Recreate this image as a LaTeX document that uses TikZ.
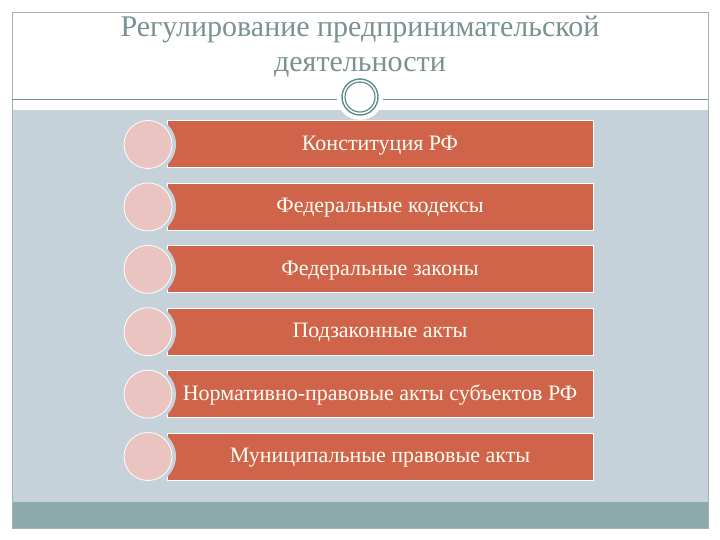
\documentclass[tikz,border=0pt]{standalone}
\usepackage{fontspec}
\setmainfont{Liberation Serif}
\usetikzlibrary{positioning}
\definecolor{panel}{RGB}{198,210,217}
\definecolor{band}{RGB}{140,170,170}
\definecolor{brick}{RGB}{208,100,74}
\definecolor{blush}{RGB}{233,196,193}
\definecolor{slate}{RGB}{122,146,146}
\definecolor{ring}{RGB}{94,140,140}

\begin{document}
\begin{tikzpicture}[x=1pt, y=-1pt,
  level/.style = {draw=white, line width=1pt, fill=brick, minimum width=426pt, minimum height=47pt,
                  inner sep=0pt, text height=15pt, text depth=3pt,
                  font=\fontsize{22}{24}\selectfont, text=white!95!yellow},
  notch/.style = {circle, fill=panel, minimum size=56pt, inner sep=0pt},
  badge/.style = {circle, fill=blush, draw=white, line width=0.8pt, minimum size=48pt, inner sep=0pt},
  heading/.style = {font=\fontsize{30}{35}\selectfont, text=slate, align=center}
]
\useasboundingbox (0,0) rectangle (720,540);
\fill[white] (0,0) rectangle (720,540);
% panels
\fill[panel] (12,110) rectangle (708,502);
\fill[band] (12,502) rectangle (708,528);
\draw[slate!70, line width=0.8pt] (12,12) rectangle (708,528);
\draw[slate, line width=1pt] (12,100) -- (708,100);

\node[heading] (title) at (360,47) {Регулирование предпринимательской\\деятельности};

% ornament
\node[circle, fill=white, minimum size=46pt] (orn) at (360,97) {};
\draw[ring, line width=1.4pt] (orn.center) circle (18);
\draw[ring, line width=1.2pt] (orn.center) circle (15);

% levels
\node[level] (l1) at (380,144.5) {Конституция РФ};
\node[level] (l2) at (380,206.9) {Федеральные кодексы};
\node[level] (l3) at (380,269.3) {Федеральные законы};
\node[level] (l4) at (380,331.7) {Подзаконные акты};
\node[level] (l5) at (380,394.1) {Нормативно-правовые акты субъектов РФ};
\node[level] (l6) at (380,456.5) {Муниципальные правовые акты};

\node[notch] (n1) at (148,144.5) {};
\node[notch] (n2) at (148,206.9) {};
\node[notch] (n3) at (148,269.3) {};
\node[notch] (n4) at (148,331.7) {};
\node[notch] (n5) at (148,394.1) {};
\node[notch] (n6) at (148,456.5) {};

\node[badge] (b1) at (n1) {};
\node[badge] (b2) at (n2) {};
\node[badge] (b3) at (n3) {};
\node[badge] (b4) at (n4) {};
\node[badge] (b5) at (n5) {};
\node[badge] (b6) at (n6) {};
\end{tikzpicture}
\end{document}
